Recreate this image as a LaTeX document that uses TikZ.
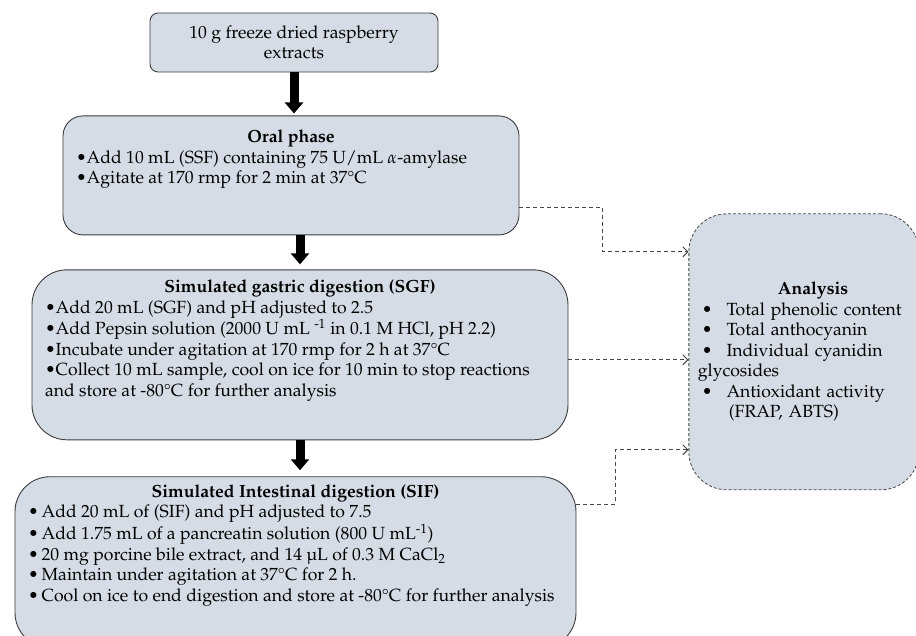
\documentclass[tikz,border=0pt]{standalone}
\usepackage[T1]{fontenc}
\usepackage{mathpazo}
\usepackage{tikz}
\usetikzlibrary{arrows.meta,positioning,calc}
\definecolor{stepfill}{RGB}{214,220,229}
\definecolor{stepborder}{RGB}{60,60,60}
\definecolor{linkgray}{RGB}{70,70,70}
\tikzset{
  % --- digestion steps ------------------------------------------------------
  samplebox/.style={
    rectangle, rounded corners=8pt, draw=stepborder, fill=stepfill,
    line width=0.9pt, align=center, minimum width=288pt, minimum height=59pt
  },
  phasebox/.style={
    rectangle, draw=stepborder, fill=stepfill, line width=0.9pt,
    inner xsep=13pt, inner ysep=0pt
  },
  % --- analysis panel ---------------------------------------------------------
  analysisbox/.style={
    rectangle, rounded corners=38pt, draw=linkgray, fill=stepfill,
    line width=0.8pt, dash pattern=on 3pt off 2pt, align=left,
    text width=212pt, minimum width=230pt, minimum height=276pt
  },
  % --- connectors -------------------------------------------------------------
  blockarrow/.style={-{Triangle[width=18pt,length=11pt]}, line width=9pt, draw=black},
  dashlink/.style={-{Straight Barb[length=5pt,width=10pt]}, draw=linkgray,
    line width=0.9pt, dash pattern=on 4pt off 3pt},
}
\newcommand{\dotitem}{\textbullet}

\begin{document}
\begin{tikzpicture}[x=1pt, y=-1pt, every node/.style={font=\fontsize{17.6}{20.5}\selectfont}]
    \useasboundingbox (0,0) rectangle (916,635);
    \hyphenpenalty=10000

    \node[samplebox] (extract) at (294,42.5) {10 g freeze dried raspberry\\extracts};
    \node[phasebox, rounded corners=20pt, below=43pt of extract, xshift=-3pt] (oral)
      {\parbox[t][119pt][t]{430pt}{\vspace*{14pt}\raggedright
        {\centering\textbf{Oral phase}\par}
        \dotitem Add 10 mL (SSF) containing 75 U/mL $\alpha$-amylase\\
        \dotitem Agitate at 170 rmp for 2 min at 37\textdegree C}};
    \node[phasebox, rounded corners=35pt, below=34pt of oral, xshift=9pt] (sgf)
      {\parbox[t][170pt][t]{510pt}{\vspace*{10pt}\raggedright
        {\centering\textbf{Simulated gastric digestion (SGF)}\par}
        \dotitem Add 20 mL (SGF) and pH adjusted to 2.5\\
        \dotitem Add Pepsin solution (2000 U mL \textsuperscript{-1} in 0.1 M HCl, pH 2.2)\\
        \dotitem Incubate under agitation at 170 rmp for 2 h at 37\textdegree C\\
        \dotitem Collect 10 mL sample, cool on ice for 10 min to stop reactions\\
        and store at -80\textdegree C for further analysis}};
    \node[phasebox, rounded corners=35pt, below=36pt of sgf, xshift=-4.5pt] (sif)
      {\parbox[t][171pt][t]{535pt}{\vspace*{8pt}\raggedright
        {\centering\textbf{Simulated Intestinal digestion (SIF)}\par}
        \dotitem\,Add 20 mL of (SIF) and pH adjusted to 7.5\\
        \dotitem\,Add 1.75 mL of a pancreatin solution (800 U mL\textsuperscript{-1})\\
        \dotitem\,20 mg porcine bile extract, and 14 \textmu L of 0.3 M CaCl$_2$\\
        \dotitem\,Maintain under agitation at 37\textdegree C for 2 h.\\
        \dotitem\,Cool on ice to end digestion and store at -80\textdegree C for further analysis}};
    \node[analysisbox, right=120pt of sgf, yshift=3pt] (analysis)
      {\hspace*{80pt}\textbf{Analysis}\\
       \hspace*{4pt}\dotitem\hspace{14pt}Total phenolic content\\
       \hspace*{4pt}\dotitem\hspace{14pt}Total anthocyanin\\
       \hspace*{4pt}\dotitem\hspace{14pt}Individual cyanidin\\
       glycosides\\
       \hspace*{4pt}\dotitem\hspace{14pt}Antioxidant activity\\
       \hspace*{31pt}(FRAP, ABTS)};

    \draw[blockarrow, shorten >=2pt] (extract.south) -- (extract.south |- oral.north);
    \draw[blockarrow, shorten >=5pt] (sgf.north |- oral.south) -- (sgf.north);
    \draw[blockarrow, shorten >=6pt] (sgf.south) -- (sgf.south |- sif.north);

    \coordinate (oralout) at ([yshift=-92pt]oral.north east);
    \coordinate (sgfout) at ([yshift=-5pt]sgf.east);
    \coordinate (sifout) at ([yshift=-28pt]sif.north east);
    \coordinate (oralin) at ([yshift=100pt]analysis.west);
    \coordinate (sifin) at ([yshift=-98pt]analysis.west);
    \draw[dashlink] (oralout) -- ++(83pt,0) |- (oralin);
    \draw[dashlink] (sgfout) -- (sgfout -| analysis.west);
    \draw[dashlink] (sifout) -- ++(39pt,0) |- (sifin);
  \end{tikzpicture}
\end{document}
